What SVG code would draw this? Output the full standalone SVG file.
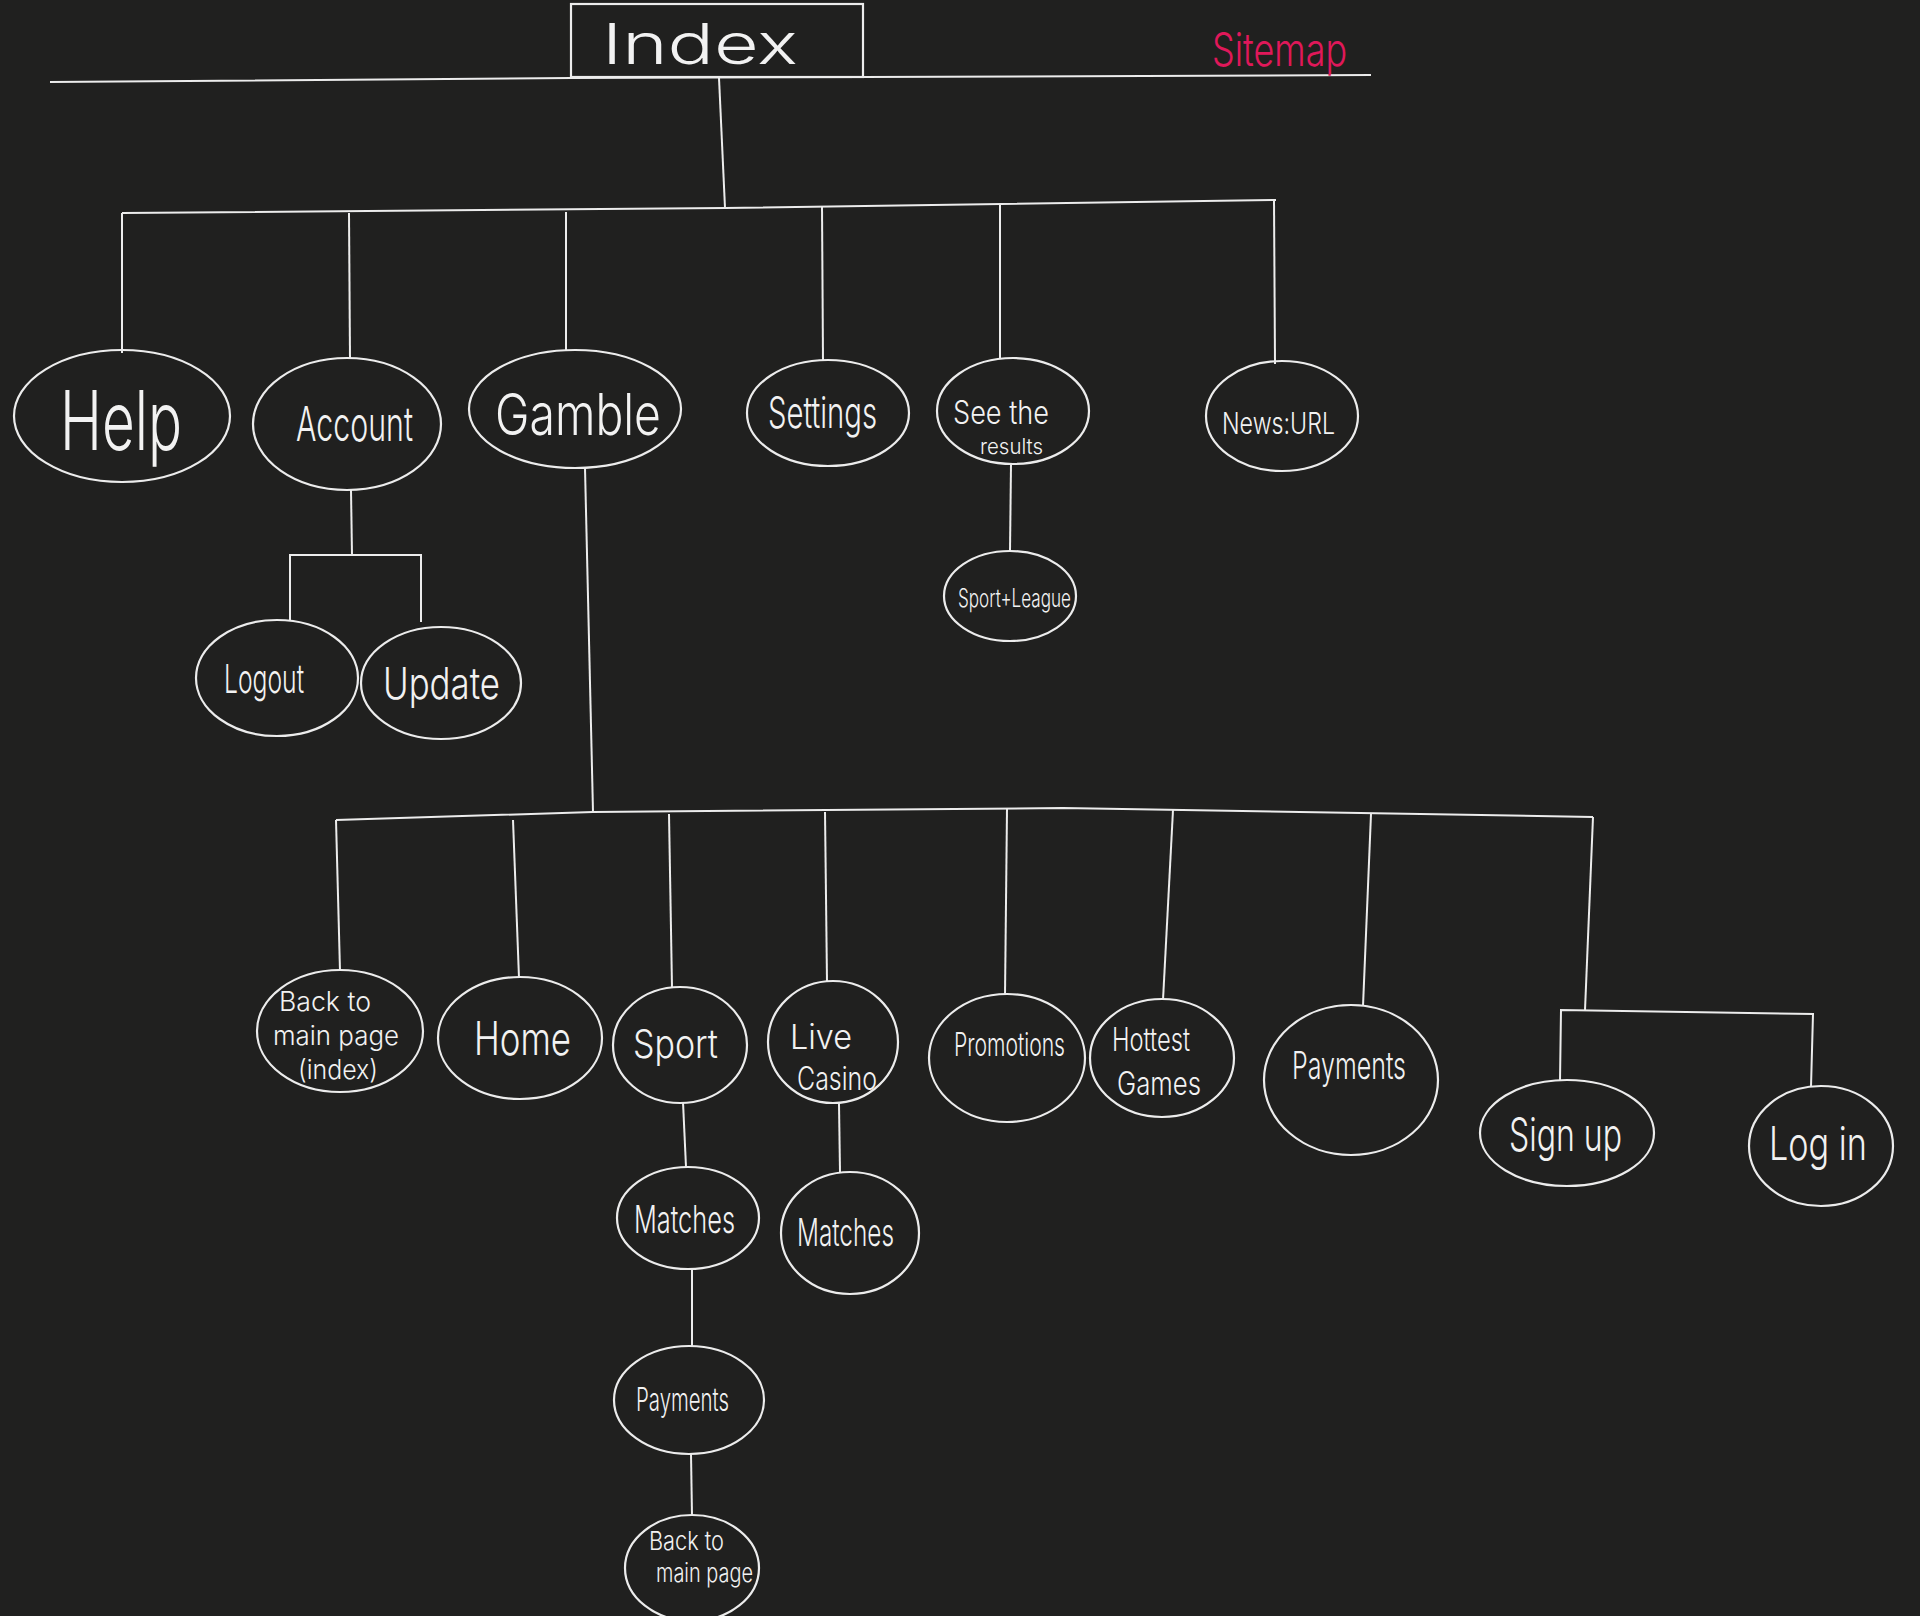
<svg xmlns="http://www.w3.org/2000/svg" width="1920" height="1616" viewBox="0 0 1920 1616">
<style>
.bg{fill:#20201f}
.n{fill:none;stroke:#ececec;stroke-width:2.2}
.c{fill:none;stroke:#ececec;stroke-width:2}
.t{fill:#f2f2f2;font-family:"Inter","Open Sans",sans-serif;font-weight:300}
.pink{fill:#e0185a;font-family:"Inter","Open Sans",sans-serif;font-weight:300}
</style>
<rect class="bg" x="0" y="0" width="1920" height="1616"/>
<g id="connectors">
<polyline class="c" points="50,82 571,78 863,77 1371,75"/>
<polyline class="c" points="719,78 725,208"/>
<polyline class="c" points="122,213 725,208 1276,200"/>
<line class="c" x1="122" y1="213" x2="122" y2="353"/>
<line class="c" x1="349" y1="213" x2="350" y2="359"/>
<line class="c" x1="566" y1="212" x2="566" y2="351"/>
<line class="c" x1="822" y1="207" x2="823" y2="361"/>
<line class="c" x1="1000" y1="205" x2="1000" y2="359"/>
<line class="c" x1="1274" y1="200" x2="1275" y2="364"/>
<line class="c" x1="351" y1="490" x2="352" y2="555"/>
<polyline class="c" points="290,621 290,555 421,555 421,622"/>
<line class="c" x1="1011" y1="464" x2="1010" y2="551"/>
<line class="c" x1="585" y1="468" x2="593" y2="812"/>
<polyline class="c" points="336,820 593,812 1063,808 1593,817"/>
<line class="c" x1="336" y1="820" x2="340" y2="971"/>
<line class="c" x1="513" y1="820" x2="519" y2="978"/>
<line class="c" x1="669" y1="814" x2="672" y2="988"/>
<line class="c" x1="825" y1="812" x2="827" y2="982"/>
<line class="c" x1="1007" y1="809" x2="1005" y2="995"/>
<line class="c" x1="1173" y1="810" x2="1163" y2="1000"/>
<line class="c" x1="1371" y1="814" x2="1363" y2="1006"/>
<line class="c" x1="1593" y1="817" x2="1585" y2="1010"/>
<polyline class="c" points="1560,1081 1561,1010 1813,1014 1811,1087"/>
<line class="c" x1="683" y1="1102" x2="686" y2="1167"/>
<line class="c" x1="839" y1="1104" x2="840" y2="1172"/>
<line class="c" x1="692" y1="1269" x2="692" y2="1346"/>
<line class="c" x1="691" y1="1454" x2="692" y2="1516"/>
</g>
<g id="index">
<rect class="n" x="571" y="4" width="292" height="73"/>
<text class="t" x="602" y="64" font-size="56" font-weight="200" textLength="196" lengthAdjust="spacingAndGlyphs">Index</text>
</g>
<g id="sitemap-title">
<text class="pink" x="1212" y="66" font-size="46" textLength="135" lengthAdjust="spacingAndGlyphs">Sitemap</text>
</g>
<g id="help">
<ellipse class="n" cx="122" cy="416" rx="108" ry="66"/>
<text class="t" x="60" y="450" font-size="82" textLength="122" lengthAdjust="spacingAndGlyphs">Help</text>
</g>
<g id="account">
<ellipse class="n" cx="347" cy="424" rx="94" ry="66"/>
<text class="t" x="296" y="441" font-size="48" textLength="117" lengthAdjust="spacingAndGlyphs">Account</text>
</g>
<g id="gamble">
<ellipse class="n" cx="575" cy="409" rx="106" ry="59"/>
<text class="t" x="495" y="435" font-size="58" textLength="166" lengthAdjust="spacingAndGlyphs">Gamble</text>
</g>
<g id="settings">
<ellipse class="n" cx="828" cy="413" rx="81" ry="53"/>
<text class="t" x="768" y="428" font-size="44" textLength="109" lengthAdjust="spacingAndGlyphs">Settings</text>
</g>
<g id="see-results">
<ellipse class="n" cx="1013" cy="411" rx="76" ry="53"/>
<text class="t" x="953" y="424" font-size="32" textLength="96" lengthAdjust="spacingAndGlyphs">See the</text>
<text class="t" x="980" y="454" font-size="22" textLength="63" lengthAdjust="spacingAndGlyphs">results</text>
</g>
<g id="news">
<ellipse class="n" cx="1282" cy="416" rx="76" ry="55"/>
<text class="t" x="1222" y="434" font-size="30" textLength="113" lengthAdjust="spacingAndGlyphs">News:URL</text>
</g>
<g id="sport-league">
<ellipse class="n" cx="1010" cy="596" rx="66" ry="45"/>
<text class="t" x="958" y="607" font-size="25" textLength="113" lengthAdjust="spacingAndGlyphs">Sport+League</text>
</g>
<g id="logout">
<ellipse class="n" cx="277" cy="678" rx="81" ry="58"/>
<text class="t" x="224" y="693" font-size="40" textLength="80" lengthAdjust="spacingAndGlyphs">Logout</text>
</g>
<g id="update">
<ellipse class="n" cx="441" cy="683" rx="80" ry="56"/>
<text class="t" x="383" y="699" font-size="44" textLength="117" lengthAdjust="spacingAndGlyphs">Update</text>
</g>
<g id="back-main-index">
<ellipse class="n" cx="340" cy="1031" rx="83" ry="61"/>
<text class="t" x="279" y="1011" font-size="27" textLength="92" lengthAdjust="spacingAndGlyphs">Back to</text>
<text class="t" x="273" y="1045" font-size="27" textLength="126" lengthAdjust="spacingAndGlyphs">main page</text>
<text class="t" x="298" y="1079" font-size="27" textLength="80" lengthAdjust="spacingAndGlyphs">(index)</text>
</g>
<g id="home">
<ellipse class="n" cx="520" cy="1038" rx="82" ry="61"/>
<text class="t" x="474" y="1055" font-size="46" textLength="97" lengthAdjust="spacingAndGlyphs">Home</text>
</g>
<g id="sport">
<ellipse class="n" cx="680" cy="1045" rx="67" ry="58"/>
<text class="t" x="633" y="1058" font-size="40" textLength="85" lengthAdjust="spacingAndGlyphs">Sport</text>
</g>
<g id="live-casino">
<ellipse class="n" cx="833" cy="1042" rx="65" ry="61"/>
<text class="t" x="790" y="1049" font-size="34" textLength="62" lengthAdjust="spacingAndGlyphs">Live</text>
<text class="t" x="797" y="1090" font-size="32" textLength="80" lengthAdjust="spacingAndGlyphs">Casino</text>
</g>
<g id="promotions">
<ellipse class="n" cx="1007" cy="1058" rx="78" ry="64"/>
<text class="t" x="954" y="1056" font-size="32" textLength="111" lengthAdjust="spacingAndGlyphs">Promotions</text>
</g>
<g id="hottest-games">
<ellipse class="n" cx="1162" cy="1058" rx="72" ry="59"/>
<text class="t" x="1112" y="1051" font-size="32" textLength="78" lengthAdjust="spacingAndGlyphs">Hottest</text>
<text class="t" x="1117" y="1095" font-size="32" textLength="84" lengthAdjust="spacingAndGlyphs">Games</text>
</g>
<g id="payments">
<ellipse class="n" cx="1351" cy="1080" rx="87" ry="75"/>
<text class="t" x="1292" y="1079" font-size="38" textLength="114" lengthAdjust="spacingAndGlyphs">Payments</text>
</g>
<g id="sign-up">
<ellipse class="n" cx="1567" cy="1133" rx="87" ry="53"/>
<text class="t" x="1509" y="1151" font-size="46" textLength="113" lengthAdjust="spacingAndGlyphs">Sign up</text>
</g>
<g id="log-in">
<ellipse class="n" cx="1821" cy="1146" rx="72" ry="60"/>
<text class="t" x="1769" y="1160" font-size="46" textLength="98" lengthAdjust="spacingAndGlyphs">Log in</text>
</g>
<g id="matches-sport">
<ellipse class="n" cx="688" cy="1218" rx="71" ry="51"/>
<text class="t" x="634" y="1233" font-size="38" textLength="101" lengthAdjust="spacingAndGlyphs">Matches</text>
</g>
<g id="matches-casino">
<ellipse class="n" cx="850" cy="1233" rx="69" ry="61"/>
<text class="t" x="797" y="1246" font-size="38" textLength="97" lengthAdjust="spacingAndGlyphs">Matches</text>
</g>
<g id="payments-sport">
<ellipse class="n" cx="689" cy="1400" rx="75" ry="54"/>
<text class="t" x="636" y="1411" font-size="32" textLength="93" lengthAdjust="spacingAndGlyphs">Payments</text>
</g>
<g id="back-main">
<ellipse class="n" cx="692" cy="1568" rx="67" ry="53"/>
<text class="t" x="649" y="1550" font-size="26" textLength="75" lengthAdjust="spacingAndGlyphs">Back to</text>
<text class="t" x="656" y="1582" font-size="26" textLength="97" lengthAdjust="spacingAndGlyphs">main page</text>
</g>
</svg>
